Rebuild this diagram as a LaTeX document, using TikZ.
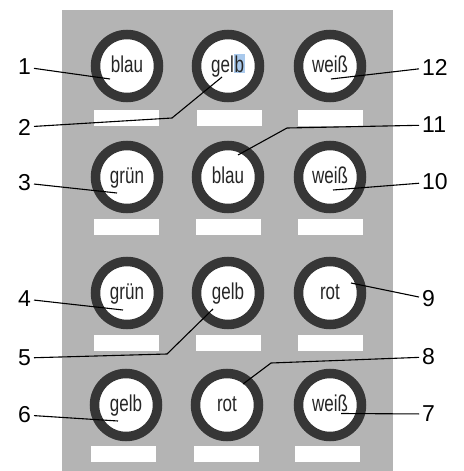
\documentclass[tikz,border=0pt]{standalone}
\usepackage{fontspec}
\setmainfont{Liberation Sans}
\usepackage{graphicx}
\definecolor{panel}{HTML}{B4B4B4}
\definecolor{rim}{HTML}{363636}
\definecolor{selblue}{HTML}{A9C9EC}
\newcommand{\knobtext}[1]{\raisebox{-6pt}[0pt][0pt]{\scalebox{1}[1.35]{#1}}}
\begin{document}
\begin{tikzpicture}[x=1pt,y=-1pt,
  knob/.style={circle,draw=rim,line width=9.5pt,fill=white,minimum size=63pt,inner sep=0pt,
    font=\fontsize{17}{17}\selectfont,text=black!85},
  plate/.style={fill=white,minimum width=65pt,minimum height=16pt,inner sep=0pt},
  num/.style={font=\fontsize{23}{23}\selectfont,inner sep=3pt},
  lead/.style={line width=1.1pt}]
\useasboundingbox (0,0) rectangle (463,471);
\fill [panel] (62,10) rectangle (393,471);
% knobs, row by row
\node [knob] (k1) at (127,66) {\knobtext{blau}};
\node [knob] (k2) at (228,66) {\knobtext{gel{\fboxsep=0.8pt\colorbox{selblue}{b}}}};
\node [knob] (k12) at (330,66) {\knobtext{weiß}};
\node [knob] (k3) at (127,177) {\knobtext{grün}};
\node [knob] (k11) at (228,177) {\knobtext{blau}};
\node [knob] (k10) at (330,177) {\knobtext{weiß}};
\node [knob] (k4) at (127,293) {\knobtext{grün}};
\node [knob] (k5) at (228,293) {\knobtext{gelb}};
\node [knob] (k9) at (330,293) {\knobtext{rot}};
\node [knob] (k6) at (126,405) {\knobtext{gelb}};
\node [knob] (k8) at (227,405) {\knobtext{rot}};
\node [knob] (k7) at (330,405) {\knobtext{weiß}};
% white plates
\node [plate] (p1) at (126,118) {};
\node [plate] (p2) at (229,118) {};
\node [plate] (p12) at (330,118) {};
\node [plate] (p3) at (126,227) {};
\node [plate] (p11) at (228,227) {};
\node [plate] (p10) at (330,227) {};
\node [plate] (p4) at (126,343) {};
\node [plate] (p5) at (228,343) {};
\node [plate] (p9) at (330,343) {};
\node [plate] (p6) at (123,454) {};
\node [plate] (p8) at (226,454) {};
\node [plate] (p7) at (327,454) {};
% numbers
\node [num,anchor=east] (n1) at (34,67) {1};
\node [num,anchor=east] (n2) at (34,127) {2};
\node [num,anchor=east] (n3) at (34,183) {3};
\node [num,anchor=east] (n4) at (34,299) {4};
\node [num,anchor=east] (n5) at (34,358) {5};
\node [num,anchor=east] (n6) at (34,415) {6};
\node [num,anchor=west] (n7) at (419,414) {7};
\node [num,anchor=west] (n8) at (419,357) {8};
\node [num,anchor=west] (n9) at (419,299) {9};
\node [num,anchor=west] (n10) at (419,182) {10};
\node [num,anchor=west] (n11) at (419,125) {11};
\node [num,anchor=west] (n12) at (419,67) {12};
% leader ends and bends
\coordinate (t1) at (110,79);
\coordinate (b2) at (172,118);
\coordinate (t2) at (222,77);
\coordinate (t3) at (117,193);
\coordinate (t4) at (123,310);
\coordinate (b5) at (167,354);
\coordinate (t5) at (213,309);
\coordinate (t6) at (118,421);
\coordinate (t7) at (341,413.5);
\coordinate (b8) at (271,363);
\coordinate (t8) at (243,384);
\coordinate (t9) at (351,283);
\coordinate (t10) at (333,190);
\coordinate (b11) at (287,128);
\coordinate (t11) at (238,155);
\coordinate (t12) at (331,79);
\draw [lead] (n1) -- (t1);
\draw [lead] (n2) -- (b2) -- (t2);
\draw [lead] (n3) -- (t3);
\draw [lead] (n4) -- (t4);
\draw [lead] (n5) -- (b5) -- (t5);
\draw [lead] (n6) -- (t6);
\draw [lead] (n7) -- (t7);
\draw [lead] (n8) -- (b8) -- (t8);
\draw [lead] (n9) -- (t9);
\draw [lead] (n10) -- (t10);
\draw [lead] (n11) -- (b11) -- (t11);
\draw [lead] (n12) -- (t12);
\end{tikzpicture}
\end{document}
